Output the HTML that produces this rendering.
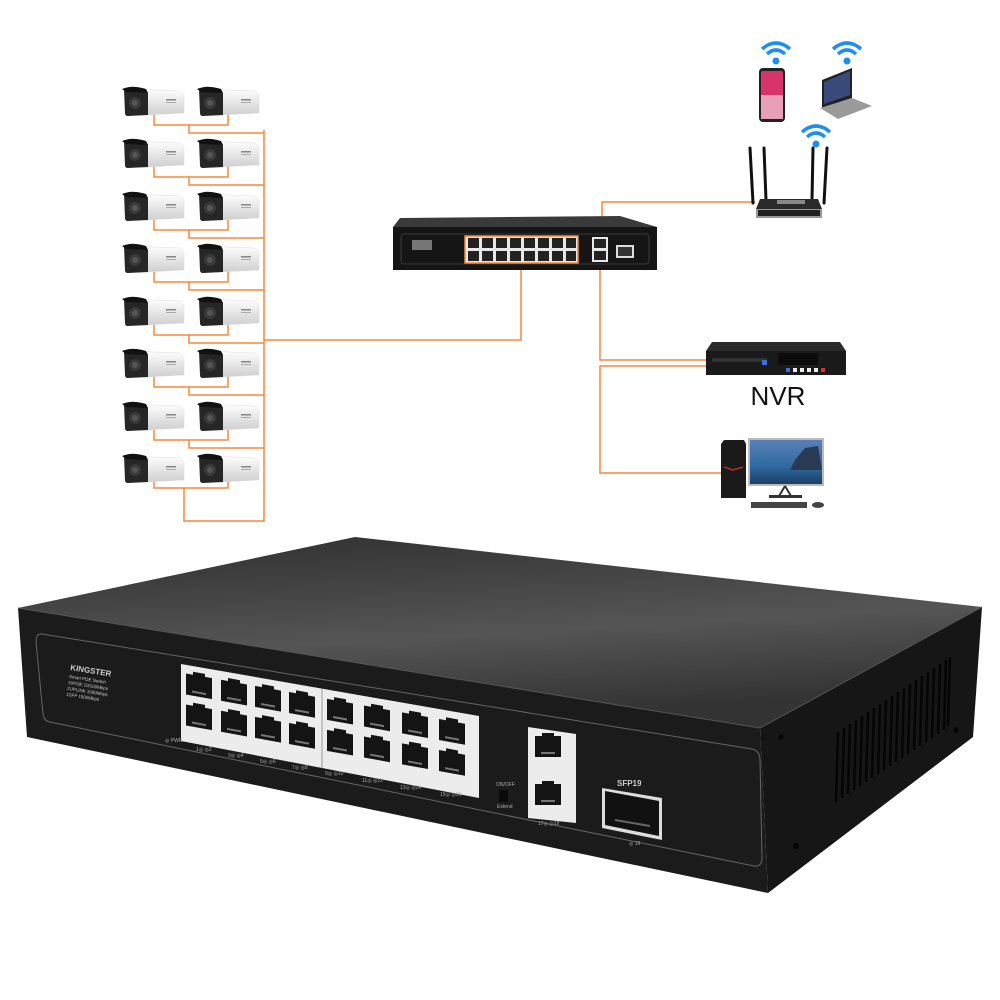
<!DOCTYPE html>
<html><head><meta charset="utf-8"><style>
html,body{margin:0;padding:0;background:#fff;width:1000px;height:1000px;overflow:hidden}
svg{display:block}
text{font-family:"Liberation Sans",sans-serif}
</style></head><body>
<svg width="1000" height="1000" viewBox="0 0 1000 1000" xmlns="http://www.w3.org/2000/svg">
<defs>
<linearGradient id="top" x1="0" y1="0" x2="0.3" y2="1">
<stop offset="0" stop-color="#2e2e2e"/><stop offset="0.6" stop-color="#555"/><stop offset="1" stop-color="#333"/></linearGradient>
<linearGradient id="cam" x1="0" y1="0" x2="0" y2="1"><stop offset="0" stop-color="#fff"/><stop offset="1" stop-color="#cfcfcf"/></linearGradient>
<linearGradient id="scr" x1="0" y1="0" x2="0" y2="1"><stop offset="0" stop-color="#5a7fb8"/><stop offset="0.6" stop-color="#2f6aa0"/><stop offset="1" stop-color="#1b3f66"/></linearGradient>
<symbol id="c" viewBox="0 0 64 34" width="64" height="34" overflow="visible">
<path d="M6 4 L58 6 L62 10 L62 28 L24 30 L6 30 Z" fill="url(#cam)" stroke="#ddd" stroke-width="0.5"/>
<path d="M2 4 Q8 0 20 3 L26 8 L26 30 L6 31 Q3 31 3 28 Z" fill="#262626"/>
<path d="M0 4 Q10 0 24 4 L26 8 L4 7 Z" fill="#111"/>
<circle cx="13" cy="18" r="6" fill="#3a3a3a"/><circle cx="13" cy="18" r="3" fill="#555"/>
<rect x="44" y="14" width="10" height="1.5" fill="#888"/><rect x="44" y="17" width="10" height="1" fill="#aaa"/>
</symbol>
<symbol id="rj" viewBox="0 0 30 26" width="30" height="26" overflow="visible">
<path d="M2 4 H9 V1 H21 V4 H28 V25 H2 Z" fill="#141414"/>
<rect x="8" y="20" width="14" height="2" fill="#777"/>
</symbol>
<symbol id="wifi" viewBox="0 0 30 26" width="30" height="26" overflow="visible">
<path d="M1 9 Q15 -3 29 9" fill="none" stroke="#1e8ff0" stroke-width="3.5"/>
<path d="M6 14 Q15 6 24 14" fill="none" stroke="#1e8ff0" stroke-width="3.5"/>
<circle cx="15" cy="21" r="3.5" fill="#1e8ff0"/>
</symbol>
</defs>

<!-- orange wires (cameras) -->
<g fill="none" stroke="#f5893a" stroke-width="1.5">
<path d="M264 130 V521 H184 V488"/>
<path d="M264 340 H521 V268"/>
<path d="M154 113 V125 H228 V113 M189 125 V133 H264"/>
<path d="M154 165 V177 H228 V165 M189 177 V185 H264"/>
<path d="M154 218 V230 H228 V218 M189 230 V238 H264"/>
<path d="M154 270 V282 H228 V270 M189 282 V290 H264"/>
<path d="M154 323 V335 H228 V323 M189 335 V343 H264"/>
<path d="M154 375 V387 H228 V375 M189 387 V395 H264"/>
<path d="M154 428 V440 H228 V428 M189 440 V448 H264"/>
<path d="M154 480 V488 H228 V480"/>
<path d="M602 238 V202 H755"/>
<path d="M600 260 V360 H707"/>
<path d="M707 366 H600 V473 H722"/>
</g>

<!-- cameras -->
<g>
<use href="#c" x="122" y="85"/><use href="#c" x="197" y="85"/>
<use href="#c" x="122" y="137"/><use href="#c" x="197" y="137"/>
<use href="#c" x="122" y="190"/><use href="#c" x="197" y="190"/>
<use href="#c" x="122" y="242"/><use href="#c" x="197" y="242"/>
<use href="#c" x="122" y="295"/><use href="#c" x="197" y="295"/>
<use href="#c" x="122" y="347"/><use href="#c" x="197" y="347"/>
<use href="#c" x="122" y="400"/><use href="#c" x="197" y="400"/>
<use href="#c" x="122" y="452"/><use href="#c" x="197" y="452"/>
</g>

<!-- small switch -->
<path d="M400 218 L620 216 L657 227 L393 227 Z" fill="#3a3a3a"/>
<rect x="393" y="227" width="264" height="43" fill="#151515"/>
<rect x="401" y="234" width="248" height="30" rx="3" fill="none" stroke="#444" stroke-width="0.8"/>
<rect x="465" y="236" width="113" height="27" fill="#e8e8e8" stroke="#f5893a" stroke-width="1.5"/>
<g fill="#222">
<rect x="468" y="238" width="11" height="10"/><rect x="482" y="238" width="11" height="10"/><rect x="496" y="238" width="11" height="10"/><rect x="510" y="238" width="11" height="10"/><rect x="524" y="238" width="11" height="10"/><rect x="538" y="238" width="11" height="10"/><rect x="552" y="238" width="11" height="10"/><rect x="566" y="238" width="10" height="10"/>
<rect x="468" y="251" width="11" height="10"/><rect x="482" y="251" width="11" height="10"/><rect x="496" y="251" width="11" height="10"/><rect x="510" y="251" width="11" height="10"/><rect x="524" y="251" width="11" height="10"/><rect x="538" y="251" width="11" height="10"/><rect x="552" y="251" width="11" height="10"/><rect x="566" y="251" width="10" height="10"/>
</g>
<rect x="592" y="237" width="16" height="25" fill="#e8e8e8"/>
<rect x="594" y="239" width="12" height="9" fill="#222"/><rect x="594" y="251" width="12" height="9" fill="#222"/>
<rect x="616" y="245" width="18" height="13" fill="#ddd"/><rect x="618" y="247" width="14" height="9" fill="#333"/>
<rect x="412" y="240" width="20" height="10" fill="#777"/>

<!-- wifi devices -->
<use href="#wifi" x="761" y="40"/>
<use href="#wifi" x="832" y="40"/>
<use href="#wifi" x="801" y="123"/>
<rect x="759" y="68" width="26" height="54" rx="4" fill="#222"/>
<rect x="761" y="71" width="22" height="48" rx="2" fill="#d8336b"/>
<rect x="761" y="95" width="22" height="24" fill="#e8a0b8"/>
<path d="M822 80 L852 68 L852 98 L822 108 Z" fill="#222"/>
<path d="M824 82 L850 71 L850 95 L824 104 Z" fill="#3a4a7a"/>
<path d="M820 108 L852 98 L872 106 L838 119 Z" fill="#9a9a9a"/>
<!-- router -->
<g stroke="#111" stroke-width="3" stroke-linecap="round">
<line x1="750" y1="148" x2="753" y2="203"/><line x1="764" y1="148" x2="766" y2="200"/>
<line x1="813" y1="148" x2="812" y2="200"/><line x1="827" y1="148" x2="824" y2="203"/>
</g>
<path d="M760 199 L818 199 L822 209 L756 209 Z" fill="#2a2a2a"/>
<rect x="777" y="200" width="28" height="4" fill="#888"/>
<rect x="756" y="209" width="66" height="9" fill="#999"/>
<rect x="758" y="210" width="62" height="6" fill="#222"/>

<!-- NVR -->
<path d="M712 342 L840 342 L846 351 L706 351 Z" fill="#2a2a2a"/>
<rect x="706" y="351" width="140" height="24" fill="#1a1a1a"/>
<rect x="712" y="358" width="55" height="4" fill="#333"/>
<rect x="778" y="353" width="40" height="12" fill="#0c0c0c"/>
<rect x="762" y="360" width="5" height="5" fill="#3a6fd8"/>
<g fill="#eee"><rect x="793" y="368" width="4" height="4"/><rect x="800" y="368" width="4" height="4"/><rect x="807" y="368" width="4" height="4"/><rect x="814" y="368" width="4" height="4"/></g>
<rect x="786" y="368" width="4" height="4" fill="#3a6fd8"/><rect x="821" y="368" width="4" height="4" fill="#e23030"/>
<text x="778" y="405" font-size="26" text-anchor="middle" fill="#111">NVR</text>

<!-- PC -->
<path d="M724 440 L744 440 L746 444 L746 498 L721 498 L721 444 Z" fill="#1a1a1a"/>
<path d="M724 467 L733 470 L743 467" fill="none" stroke="#c0282a" stroke-width="1.5"/>
<rect x="748" y="438" width="76" height="48" fill="#bbb"/>
<rect x="750" y="440" width="72" height="44" fill="url(#scr)"/>
<path d="M795 460 L805 448 L818 446 L822 470 L790 470 Z" fill="#2a3a55"/>
<path d="M785 486 L779 496 M785 486 L791 496" stroke="#333" stroke-width="2"/>
<rect x="769" y="495" width="33" height="3" fill="#333"/>
<rect x="751" y="502" width="56" height="6" fill="#444"/>
<ellipse cx="818" cy="505" rx="6" ry="3" fill="#444"/>

<!-- big switch -->
<path d="M18 608 L355 537 L982 607 L760 728 Z" fill="url(#top)"/>
<path d="M18 608 L760 728 L768 893 L27 737 Z" fill="#1b1b1b"/>
<path d="M760 728 L982 607 L973 737 L768 893 Z" fill="#161616"/>
<path d="M18 608 L760 728 L982 607" fill="none" stroke="#555" stroke-width="1"/>
<path d="M42 634 L752 749 Q760 751 760 760 L762 858 Q762 867 754 866 L50 722 Q44 721 43 714 L36 642 Q36 633 42 634 Z" fill="none" stroke="#666" stroke-width="1"/>
<!-- vents -->
<g stroke="#050505" stroke-width="2.5">
<line x1="838" y1="732" x2="836" y2="802"/><line x1="844" y1="728" x2="842" y2="798"/><line x1="850" y1="724" x2="848" y2="794"/><line x1="856" y1="720" x2="854" y2="790"/><line x1="862" y1="716" x2="860" y2="786"/><line x1="868" y1="712" x2="866" y2="782"/><line x1="874" y1="708" x2="872" y2="778"/><line x1="880" y1="704" x2="878" y2="774"/><line x1="886" y1="700" x2="884" y2="770"/><line x1="892" y1="696" x2="890" y2="766"/><line x1="898" y1="692" x2="896" y2="762"/><line x1="904" y1="688" x2="902" y2="758"/><line x1="910" y1="684" x2="908" y2="754"/><line x1="916" y1="680" x2="914" y2="750"/><line x1="922" y1="676" x2="920" y2="746"/><line x1="928" y1="672" x2="926" y2="742"/><line x1="934" y1="668" x2="932" y2="738"/><line x1="940" y1="664" x2="938" y2="734"/><line x1="946" y1="660" x2="944" y2="730"/><line x1="950" y1="657" x2="948" y2="726"/>
</g>
<circle cx="781" cy="737" r="2.5" fill="#050505"/><circle cx="956" cy="730" r="2.5" fill="#050505"/><circle cx="796" cy="846" r="3" fill="#050505"/>
<!-- label -->
<g fill="#ccc" transform="rotate(9 70 670)">
<text x="70" y="670" font-size="8" font-family="Liberation Serif" font-weight="bold">KINGSTER</text>
<text x="70" y="678" font-size="4.5">Smart POE Switch</text>
<text x="70" y="684" font-size="4.5">16POE 10/100Mbps</text>
<text x="70" y="690" font-size="4.5">2UPLINK 1000Mbps</text>
<text x="70" y="696" font-size="4.5">1SFP 1000Mbps</text>
</g>
<!-- port block -->
<path d="M181 664 L479 716 L479 798 L181 741 Z" fill="#ececec"/>
<line x1="322" y1="689" x2="322" y2="768" stroke="#999" stroke-width="1"/>
<g transform="matrix(1 0.18 0 1 0 0)">
<use href="#rj" x="184" y="636"/><use href="#rj" x="219" y="636" /><use href="#rj" x="253" y="636"/><use href="#rj" x="287" y="636"/>
<use href="#rj" x="325" y="636"/><use href="#rj" x="362" y="636"/><use href="#rj" x="400" y="636"/><use href="#rj" x="437" y="636"/>
<use href="#rj" x="184" y="667"/><use href="#rj" x="219" y="667"/><use href="#rj" x="253" y="667"/><use href="#rj" x="287" y="667"/>
<use href="#rj" x="325" y="667"/><use href="#rj" x="362" y="667"/><use href="#rj" x="400" y="667"/><use href="#rj" x="437" y="667"/>
</g>
<g fill="#aaa" font-size="5">
<text x="165" y="742">◎ PWR</text>
<text x="196" y="751">1◎ ◎2</text><text x="228" y="757">3◎ ◎4</text><text x="260" y="763">5◎ ◎6</text><text x="292" y="769">7◎ ◎8</text>
<text x="325" y="775">9◎ ◎10</text><text x="362" y="782">11◎ ◎12</text><text x="400" y="789">13◎ ◎14</text><text x="440" y="796">15◎ ◎16</text>
<text x="496" y="786">ON/OFF</text><text x="497" y="808">Extend</text>
<text x="538" y="825">17◎ ◎18</text><text x="629" y="845">◎ 19</text>
</g>
<rect x="499" y="790" width="9" height="12" fill="#0a0a0a"/>
<!-- uplink -->
<path d="M528 727 L576 734 L576 823 L528 818 Z" fill="#ececec"/>
<use href="#rj" x="533" y="732" transform="skewY(0)"/>
<use href="#rj" x="533" y="780"/>
<!-- SFP -->
<text x="617" y="786" font-size="8" fill="#ccc" font-weight="bold">SFP19</text>
<path d="M602 788 L662 798 L662 840 L602 828 Z" fill="#ddd"/>
<path d="M605 791 L659 801 L659 836 L605 825 Z" fill="#111"/>
<path d="M615 820 L650 826" stroke="#666" stroke-width="2"/>
</svg>
</body></html>
